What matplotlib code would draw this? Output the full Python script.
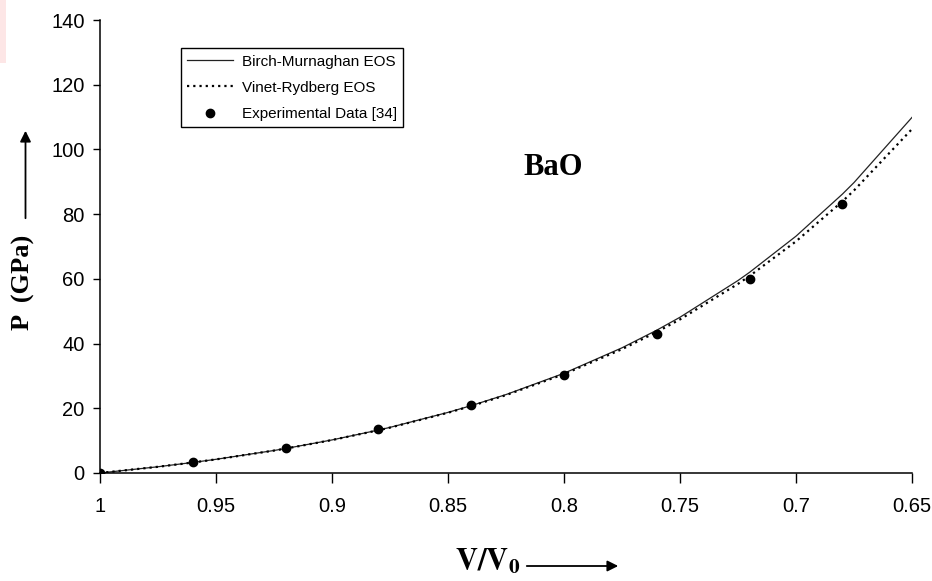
import matplotlib
matplotlib.use('Agg')
import matplotlib.pyplot as plt
from matplotlib.patches import Rectangle, FancyArrowPatch

# ====== 数据 ======
v_ratio = [1.0, 0.975, 0.96, 0.95, 0.925, 0.92, 0.9, 0.88, 0.875, 0.85, 0.84, 0.825,
           0.8, 0.775, 0.76, 0.75, 0.725, 0.72, 0.7, 0.68, 0.675, 0.65]
p_birch = [0.0, 1.93, 3.26, 4.23, 6.96, 7.57, 10.22, 13.27, 14.10, 18.73, 20.82, 24.24,
           30.82, 38.69, 44.14, 48.14, 59.49, 62.03, 73.19, 86.19, 89.76, 109.9]
p_vinet = [0.0, 1.92, 3.24, 4.21, 6.93, 7.54, 10.18, 13.21, 14.03, 18.62, 20.69, 24.07,
           30.55, 38.27, 43.59, 47.47, 58.45, 60.89, 71.59, 83.94, 87.33, 106.3]
v_exp = [1.0, 0.96, 0.92, 0.88, 0.84, 0.80, 0.76, 0.72, 0.68]
p_exp = [0.0, 3.5, 7.8, 13.7, 21.1, 30.3, 42.9, 60.0, 83.2]

x_ticks = [1.0, 0.95, 0.9, 0.85, 0.8, 0.75, 0.7, 0.65]
x_tick_labels = ['1', '0.95', '0.9', '0.85', '0.8', '0.75', '0.7', '0.65']
y_ticks = [0, 20, 40, 60, 80, 100, 120, 140]

plt.rcParams['font.family'] = ['Liberation Sans', 'DejaVu Sans']
plt.rcParams['mathtext.fontset'] = 'stix'

fig = plt.figure(figsize=(9.32, 5.81), dpi=100)
ax = fig.add_axes([100 / 932, 108 / 581, 812 / 932, 453 / 581])

# 左上角淡粉色残影
fig.add_artist(Rectangle((0, 1 - 63 / 581), 6 / 932, 63 / 581, transform=fig.transFigure,
                         facecolor='#fde6e6', edgecolor='none'))

ax.plot(v_ratio, p_birch, color='#222222', linewidth=0.9, label='Birch-Murnaghan EOS')
ax.plot(v_ratio, p_vinet, color='black', linewidth=1.6, linestyle=(0, (1, 1.8)),
        label='Vinet-Rydberg EOS')
ax.plot(v_exp, p_exp, linestyle='none', marker='o', markersize=6, color='black',
        label='Experimental Data [34]')

ax.set_xlim(1.0, 0.65)
ax.set_ylim(0, 140)
ax.set_xticks(x_ticks)
ax.set_xticklabels(x_tick_labels)
ax.set_yticks(y_ticks)

for side in ['top', 'right']:
    ax.spines[side].set_visible(False)
for side in ['left', 'bottom']:
    ax.spines[side].set_linewidth(1.1)
ax.tick_params(axis='x', direction='out', length=7, width=1, pad=10, labelsize=14.5)
ax.tick_params(axis='y', direction='out', length=5, width=1, pad=6, labelsize=14.5)

leg = ax.legend(loc='upper left', bbox_to_anchor=(0.0998, 0.938), fontsize=11,
                frameon=True, fancybox=False, edgecolor='black', framealpha=1,
                handlelength=3.0, handletextpad=0.55, labelspacing=0.8, borderpad=0.42,
                borderaxespad=0)
leg.get_frame().set_linewidth(1.0)

ax.text(0.558, 0.675, 'BaO', transform=ax.transAxes, ha='center', va='center',
        fontsize=22, fontweight='bold', family='Liberation Serif')

# 坐标轴标题与箭头
fig.text(23 / 932, 1 - 282 / 581, 'P  (GPa)', rotation=90, ha='center', va='center',
         fontsize=19, fontweight='bold', family='Liberation Serif')
fig.add_artist(FancyArrowPatch(
    (25.5 / 932, 1 - 221 / 581), (25.5 / 932, 1 - 128 / 581), transform=fig.transFigure,
    arrowstyle='-|>', mutation_scale=16, color='black', linewidth=1.3))

fig.text(488 / 932, 1 - 562 / 581, r'$\mathbf{V/V_0}$', ha='center', va='center',
         fontsize=22)
fig.add_artist(FancyArrowPatch(
    (524 / 932, 1 - 566 / 581), (621 / 932, 1 - 566 / 581), transform=fig.transFigure,
    arrowstyle='-|>', mutation_scale=16, color='black', linewidth=1.3))

plt.savefig('out.png', dpi=100)
